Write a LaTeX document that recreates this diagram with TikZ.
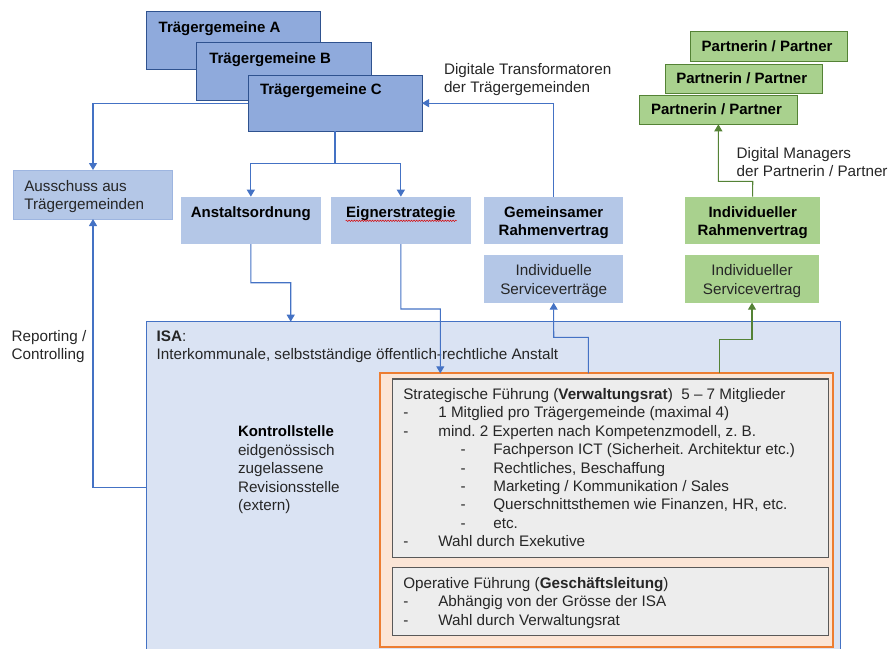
\documentclass[tikz,border=0pt]{standalone}
\usepackage{fontspec}
\setmainfont{Liberation Sans}
\usetikzlibrary{arrows.meta,decorations.pathmorphing}
\definecolor{tgfill}{HTML}{8FAADC}
\definecolor{tgdraw}{HTML}{2F528F}
\definecolor{lblue}{HTML}{B4C7E7}
\definecolor{lbdraw}{HTML}{9DB5E0}
\definecolor{gfill}{HTML}{A9D18E}
\definecolor{gdraw}{HTML}{548235}
\definecolor{isafill}{HTML}{DAE3F3}
\definecolor{conblue}{HTML}{4472C4}
\definecolor{orfill}{HTML}{FBE5D6}
\definecolor{ordraw}{HTML}{ED7D31}
\definecolor{grfill}{HTML}{EDEDED}
\definecolor{grdraw}{HTML}{595959}
\definecolor{txtc}{HTML}{262626}
\definecolor{gline}{HTML}{548235}
\frenchspacing
\begin{document}
\begin{tikzpicture}[x=1pt,y=-1pt,font=\fontsize{15.25}{18.4}\selectfont\frenchspacing,
  box/.style={inner sep=0pt,outer sep=0pt,anchor=north west},
  tg/.style={box,fill=tgfill,draw=tgdraw,line width=1pt},
  lb/.style={box,fill=lblue},
  gb/.style={box,fill=gfill},
  pb/.style={box,fill=gfill,draw=gdraw,line width=1pt},
  txt/.style={anchor=base west,inner sep=0pt,outer sep=0pt,text=txtc},
  ctxt/.style={anchor=base,inner sep=0pt,outer sep=0pt,text=txtc},
  btxt/.style={txt,text=black,font=\fontsize{15}{18.4}\selectfont\bfseries},
  bctxt/.style={ctxt,text=black,font=\fontsize{15}{18.4}\selectfont\bfseries},
  conn/.style={draw=conblue,line width=1.1pt},
  arr/.style={conn,-{Triangle[width=8pt,length=7pt]}},
  garr/.style={draw=gline,line width=1.1pt,-{Triangle[width=8pt,length=7pt]}}]
\useasboundingbox (0,0) rectangle (888,648);

% ISA big box
\node[box,fill=isafill,draw=conblue,line width=1pt,minimum width=693.3pt,minimum height=335pt] (isa) at (146.7,321.7) {};
\node[box,fill=orfill,draw=ordraw,line width=2pt,minimum width=453.3pt,minimum height=273.4pt] (orange) at (380,373.3) {};
\node[box,fill=grfill,draw=grdraw,line width=1.3pt,minimum width=435.6pt,minimum height=178.7pt] (strat) at (392.7,379) {};
\node[box,fill=grfill,draw=grdraw,line width=1.3pt,minimum width=435.6pt,minimum height=67.8pt] (oper) at (392.7,567.7) {};

% Traegergemeinden
\node[tg,minimum width=174pt,minimum height=57.5pt] (tgA) at (146.7,11.5) {};
\node[btxt] (tgAt) at (158.7,32.5) {Trägergemeine A};
\node[tg,minimum width=175pt,minimum height=57.3pt] (tgB) at (196.7,42.7) {};
\node[btxt] (tgBt) at (209.3,63.5) {Trägergemeine B};
\node[tg,minimum width=174pt,minimum height=56.3pt] (tgC) at (248,75) {};
\node[btxt] (tgCt) at (260,94.5) {Trägergemeine C};

% Partner
\node[pb,minimum width=157pt,minimum height=30pt] (pA) at (690.3,31.7) {};
\node[btxt] (pAt) at (701.7,51.7) {Partnerin / Partner};
\node[pb,minimum width=157pt,minimum height=29pt] (pB) at (665,64) {};
\node[btxt] (pBt) at (676.3,83.3) {Partnerin / Partner};
\node[pb,minimum width=157.3pt,minimum height=29pt] (pC) at (639.7,95.3) {};
\node[btxt] (pCt) at (651,114.3) {Partnerin / Partner};

% Labels
\node[txt] (dt1) at (444,74.3) {Digitale Transformatoren};
\node[txt] (dt2) at (444,92.3) {der Trägergemeinden};
\node[txt] (dm1) at (736.7,158.3) {Digital Managers};
\node[txt] (dm2) at (736.7,176) {der Partnerin / Partner};
\node[txt] (rep1) at (11.7,341) {Reporting /};
\node[txt] (rep2) at (11.7,359) {Controlling};

% Middle row
\node[box,fill=lblue,draw=lbdraw,line width=0.8pt,minimum width=159.4pt,minimum height=49pt] (aus) at (13.3,170) {};
\node[txt] (aust1) at (24.3,191.7) {Ausschuss aus};
\node[txt] (aust2) at (24.3,209.2) {Trägergemeinden};

\node[lb,minimum width=139.7pt,minimum height=47.3pt] (anst) at (181,196.7) {};
\node[bctxt] (anstt) at (250.8,217.5) {Anstaltsordnung};
\node[lb,minimum width=139.7pt,minimum height=47.3pt] (eig) at (331,196.7) {};
\node[bctxt] (eigt) at (400.8,217.5) {Eignerstrategie};
\draw[red!85!black,line width=0.5pt,decorate,decoration={snake,amplitude=0.7pt,segment length=2.6pt}] (345.7,220.8) -- (456.7,220.8);

\node[lb,minimum width=139.3pt,minimum height=47.6pt] (gr) at (484,196.7) {};
\node[bctxt] (grt1) at (553.7,217.5) {Gemeinsamer};
\node[bctxt] (grt2) at (553.7,235) {Rahmenvertrag};
\node[lb,minimum width=139.3pt,minimum height=47.7pt] (isv) at (484,255) {};
\node[ctxt] (isvt1) at (553.7,275.7) {Individuelle};
\node[ctxt] (isvt2) at (553.7,294) {Serviceverträge};

\node[gb,minimum width=135.3pt,minimum height=47.3pt] (irv) at (685,196.7) {};
\node[bctxt] (irvt1) at (752.7,217.5) {Individueller};
\node[bctxt] (irvt2) at (752.7,235) {Rahmenvertrag};
\node[gb,minimum width=134.6pt,minimum height=47.7pt] (igs) at (684.7,255) {};
\node[ctxt] (igst1) at (752,275.7) {Individueller};
\node[ctxt] (igst2) at (752,294) {Servicevertrag};

% ISA texts
\node[txt] (isat1) at (156.7,341) {\textbf{ISA}:};
\node[txt] (isat2) at (156.7,359.3) {Interkommunale, selbstständige öffentlich-rechtliche Anstalt};
\node[btxt] (k1) at (238,436.7) {Kontrollstelle};
\node[txt] (k2) at (238,455) {eidgenössisch};
\node[txt] (k3) at (238,473.6) {zugelassene};
\node[txt] (k4) at (238,492.1) {Revisionsstelle};
\node[txt] (k5) at (238,510.6) {(extern)};

% Strategic
\node[txt] (s1) at (403.3,399.5) {Strategische Führung (\textbf{Verwaltungsrat})\ \ 5 – 7 Mitglieder};
\node[txt] (s2d) at (403.3,417.9) {-};
\node[txt] (s2) at (438.3,417.9) {1 Mitglied pro Trägergemeinde (maximal 4)};
\node[txt] (s3d) at (403.3,436.3) {-};
\node[txt] (s3) at (438.3,436.3) {mind. 2 Experten nach Kompetenzmodell, z. B.};
\node[txt] (s4d) at (460.7,454.7) {-};
\node[txt] (s4) at (493.3,454.7) {Fachperson ICT (Sicherheit. Architektur etc.)};
\node[txt] (s5d) at (460.7,473.1) {-};
\node[txt] (s5) at (493.3,473.1) {Rechtliches, Beschaffung};
\node[txt] (s6d) at (460.7,491.5) {-};
\node[txt] (s6) at (493.3,491.5) {Marketing / Kommunikation / Sales};
\node[txt] (s7d) at (460.7,509.9) {-};
\node[txt] (s7) at (493.3,509.9) {Querschnittsthemen wie Finanzen, HR, etc.};
\node[txt] (s8d) at (460.7,528.3) {-};
\node[txt] (s8) at (493.3,528.3) {etc.};
\node[txt] (s9d) at (403.3,546.7) {-};
\node[txt] (s9) at (438.3,546.7) {Wahl durch Exekutive};

% Operative
\node[txt] (o1) at (403.3,588.3) {Operative Führung (\textbf{Geschäftsleitung})};
\node[txt] (o2d) at (403.3,606.2) {-};
\node[txt] (o2) at (438.3,606.2) {Abhängig von der Grösse der ISA};
\node[txt] (o3d) at (403.3,625) {-};
\node[txt] (o3) at (438.3,625) {Wahl durch Verwaltungsrat};

% Connectors
\coordinate (split) at (335,163.3);
\draw[conn] (tgC.south) -- (split);
\draw[arr] (split) -| (anst.north);
\draw[arr] (split) -| (eig.north);
\draw[arr] (tgC.west) -| (aus.north);
\draw[arr] (gr.north) |- (tgC.east);
\coordinate (isaL) at (146.7,487.3);
\draw[arr] (isaL) -| (aus.south);
\coordinate (a1) at (250.8,282.7);
\coordinate (a2) at (290.7,282.7);
\draw[arr] (anst.south) -- (a1) -- (a2) -- (a2 |- isa.north);
\coordinate (e1) at (400.8,309);
\coordinate (e2) at (440.3,309);
\draw[arr] (eig.south) -- (e1) -- (e2) -- (e2 |- orange.north);
\coordinate (sv0) at (588.3,373.3);
\coordinate (sv1) at (588.3,337.3);
\coordinate (sv2) at (553.7,337.3);
\draw[arr] (sv0) -- (sv1) -- (sv2) -- (isv.south);
\coordinate (g0) at (719.3,373.3);
\coordinate (g1) at (719.3,339.3);
\coordinate (g2) at (752,339.3);
\draw[garr] (g0) -- (g1) -- (g2) -- (igs.south);
\coordinate (p1) at (752.7,181.3);
\coordinate (p2) at (718.35,181.3);
\draw[garr] (irv.north) -- (p1) -- (p2) -- (pC.south);
\end{tikzpicture}
\end{document}
